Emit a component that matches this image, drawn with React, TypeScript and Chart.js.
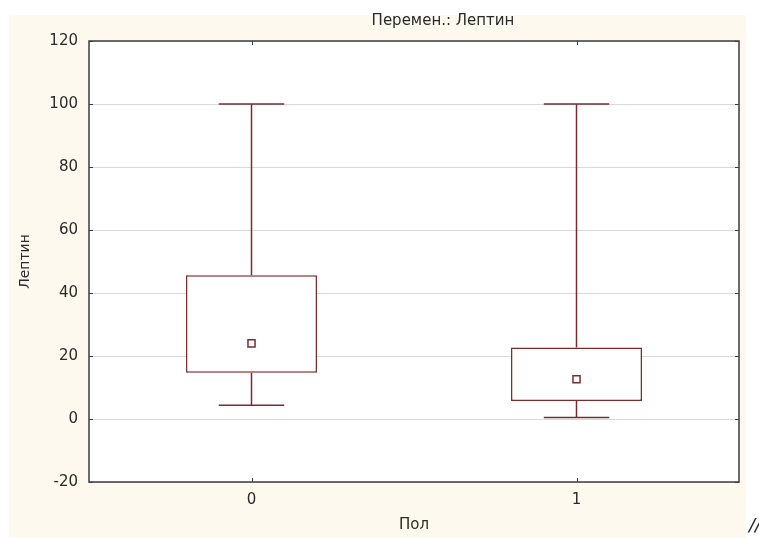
import React, { useEffect, useRef } from "react";
import { Chart, registerables } from "chart.js";

Chart.register(...registerables);

const categories = ["0", "1"];
const q1 = [14.7, 5.7];
const q3 = [45.6, 22.7];
const medians = [24.0, 12.6];
const whiskerLow = [4.4, 0.5];
const whiskerHigh = [100, 100];
const yTicks = [-20, 0, 20, 40, 60, 80, 100, 120];

const titleText = "Перемен.: Лептин";
const xTitle = "Пол";
const yTitle = "Лептин";

const BOX = "#7a2c2c";
const FRAME = "#3c3c3c";
const CREAM = "#fdf9ef";
const TEXT = "#2a2a2a";
const FONT = "'DejaVu Sans', sans-serif";

export default function App() {
  const ref = useRef<HTMLCanvasElement | null>(null);

  useEffect(() => {
    if (!ref.current) return;

    const backgroundPlugin = {
      id: "bgPlugin",
      beforeDraw(chart: any) {
        const { ctx, chartArea } = chart;
        ctx.save();
        ctx.fillStyle = CREAM;
        ctx.fillRect(9, 15, 737, chart.height - 15);
        ctx.fillStyle = "#ffffff";
        ctx.fillRect(chartArea.left, chartArea.top, chartArea.right - chartArea.left, chartArea.bottom - chartArea.top);
        ctx.restore();
      },
    };

    const boxPlugin = {
      id: "boxPlugin",
      afterDatasetsDraw(chart: any) {
        const { ctx, chartArea } = chart;
        const y = chart.scales.y;
        const x = chart.scales.x;
        const meta = chart.getDatasetMeta(1);
        ctx.save();
        ctx.strokeStyle = BOX;
        ctx.lineWidth = 1.5;
        meta.data.forEach((bar: any, i: number) => {
          const cx = bar.x;
          const cap = bar.width / 2;
          const yHi = y.getPixelForValue(whiskerHigh[i]);
          const yLo = y.getPixelForValue(whiskerLow[i]);
          const yQ3 = y.getPixelForValue(q3[i]);
          const yQ1 = y.getPixelForValue(q1[i]);
          ctx.beginPath();
          ctx.moveTo(cx, yQ3);
          ctx.lineTo(cx, yHi);
          ctx.moveTo(cx - cap / 2, yHi);
          ctx.lineTo(cx + cap / 2, yHi);
          ctx.moveTo(cx, yQ1);
          ctx.lineTo(cx, yLo);
          ctx.moveTo(cx - cap / 2, yLo);
          ctx.lineTo(cx + cap / 2, yLo);
          ctx.stroke();
        });
        ctx.restore();

        // frame
        ctx.save();
        ctx.strokeStyle = FRAME;
        ctx.lineWidth = 1.5;
        ctx.strokeRect(chartArea.left, chartArea.top, chartArea.right - chartArea.left, chartArea.bottom - chartArea.top);
        // inside ticks
        ctx.lineWidth = 1;
        ctx.beginPath();
        yTicks.forEach((v) => {
          const py = Math.round(y.getPixelForValue(v)) + 0.5;
          ctx.moveTo(chartArea.left, py);
          ctx.lineTo(chartArea.left + 4, py);
          ctx.moveTo(chartArea.right, py);
          ctx.lineTo(chartArea.right - 4, py);
        });
        categories.forEach((_, i) => {
          const px = Math.round(x.getPixelForValue(i)) + 0.5;
          ctx.moveTo(px, chartArea.bottom);
          ctx.lineTo(px, chartArea.bottom - 4);
          ctx.moveTo(px, chartArea.top);
          ctx.lineTo(px, chartArea.top + 4);
        });
        ctx.stroke();
        ctx.restore();

        // title
        ctx.save();
        ctx.fillStyle = TEXT;
        ctx.font = `15px ${FONT}`;
        ctx.textAlign = "center";
        ctx.textBaseline = "middle";
        ctx.fillText(titleText, (chartArea.left + chartArea.right) / 2 + 29, 21);
        ctx.restore();
      },
    };

    const chart = new Chart(ref.current, {
      type: "bar",
      data: {
        labels: categories,
        datasets: [
          {
            type: "line",
            label: "median",
            data: medians,
            showLine: false,
            pointStyle: "rect",
            pointRadius: 5,
            pointHoverRadius: 5,
            borderColor: BOX,
            backgroundColor: "#ffffff",
            borderWidth: 1.5,
            order: 0,
          } as any,
          {
            type: "bar",
            label: "box",
            data: categories.map((_, i) => [q1[i], q3[i]]),
            backgroundColor: "#ffffff",
            borderColor: BOX,
            borderWidth: 1.5,
            borderSkipped: false,
            barPercentage: 0.403,
            categoryPercentage: 1,
            grouped: false,
            order: 1,
          } as any,
        ],
      },
      options: {
        responsive: false,
        animation: false,
        events: [],
        layout: { padding: { left: 0, right: 20, top: 41, bottom: 0 } },
        plugins: {
          legend: { display: false },
          tooltip: { enabled: false },
          title: { display: false },
        },
        scales: {
          x: {
            type: "category",
            offset: true,
            grid: { display: false, drawTicks: false },
            border: { display: false },
            ticks: { color: TEXT, font: { family: FONT, size: 15 }, padding: 9 },
            title: {
              display: true,
              text: xTitle,
              color: TEXT,
              font: { family: FONT, size: 15 },
              padding: { top: 4, bottom: 4 },
            },
            afterFit: (s: any) => {
              s.height = 56;
            },
          },
          y: {
            min: yTicks[0],
            max: yTicks[yTicks.length - 1],
            ticks: {
              stepSize: yTicks[1] - yTicks[0],
              color: TEXT,
              font: { family: FONT, size: 15 },
              padding: 11,
            },
            grid: { color: "#d9d9d9", drawTicks: false, lineWidth: 1 },
            border: { display: false },
            title: {
              display: true,
              text: yTitle,
              color: TEXT,
              font: { family: FONT, size: 14 },
              padding: { top: 16.6, bottom: 4 },
            },
            afterFit: (s: any) => {
              s.width = 89;
            },
          },
        },
      },
      plugins: [backgroundPlugin, boxPlugin],
    });

    return () => chart.destroy();
  }, []);

  return (
    <div
      style={{
        position: "fixed",
        left: 0,
        top: 0,
        width: 759,
        height: 538,
        overflow: "hidden",
        background: "#ffffff",
      }}
    >
      <canvas ref={ref} width={759} height={538} style={{ display: "block", width: 759, height: 538 }} />
      <span
        style={{
          position: "absolute",
          left: 749,
          top: 514,
          fontStyle: "italic",
          fontSize: 18,
          fontFamily: "'DejaVu Sans', sans-serif",
          color: "#222",
          whiteSpace: "nowrap",
        }}
      >
        //
      </span>
    </div>
  );
}
